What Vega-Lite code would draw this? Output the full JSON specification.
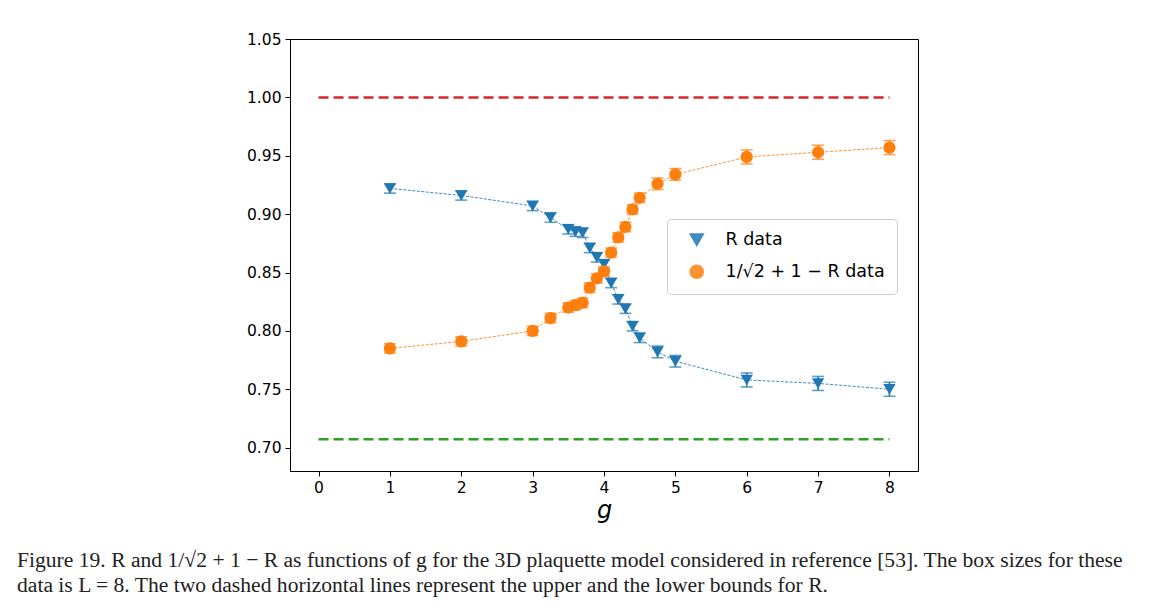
{
  "$schema": "https://vega.github.io/schema/vega-lite/v6.json",
  "width": 628,
  "height": 432,
  "autosize": {"type": "none"},
  "padding": {"left": 290, "top": 39, "right": 245, "bottom": 145},
  "background": "white",
  "config": {
    "view": {"stroke": "#000000", "strokeWidth": 1},
    "axis": {"grid": false, "domainColor": "#000000", "tickColor": "#000000", "labelColor": "#000000", "labelFont": "DejaVu Sans", "labelFontSize": 15.5, "tickSize": 5, "labelPadding": 4}
  },
  "title": {
    "text": ["Figure 19.  R and 1/√2 + 1 − R as functions of g for the 3D plaquette model considered in reference [53]. The box sizes for these", "data is L = 8. The two dashed horizontal lines represent the upper and the lower bounds for R."],
    "orient": "bottom", "anchor": "start", "frame": "group", "dx": -273, "offset": 27,
    "font": "Liberation Serif", "fontSize": 21.6, "fontWeight": "normal", "color": "#222222", "lineHeight": 25
  },
  "datasets": {
    "bounds": [
      {"name": "upper", "g0": 0, "g1": 8, "y": 1.0},
      {"name": "lower", "g0": 0, "g1": 8, "y": 0.7071}
    ],
    "pts": [
      {"g": 1, "series": "R  data", "value": 0.922, "err": 0.004},
      {"g": 2, "series": "R  data", "value": 0.916, "err": 0.004},
      {"g": 3, "series": "R  data", "value": 0.907, "err": 0.004},
      {"g": 3.25, "series": "R  data", "value": 0.897, "err": 0.004},
      {"g": 3.5, "series": "R  data", "value": 0.887, "err": 0.004},
      {"g": 3.6, "series": "R  data", "value": 0.885, "err": 0.004},
      {"g": 3.7, "series": "R  data", "value": 0.884, "err": 0.004},
      {"g": 3.8, "series": "R  data", "value": 0.871, "err": 0.004},
      {"g": 3.9, "series": "R  data", "value": 0.863, "err": 0.004},
      {"g": 4.0, "series": "R  data", "value": 0.857, "err": 0.004},
      {"g": 4.1, "series": "R  data", "value": 0.841, "err": 0.004},
      {"g": 4.2, "series": "R  data", "value": 0.827, "err": 0.004},
      {"g": 4.3, "series": "R  data", "value": 0.819, "err": 0.004},
      {"g": 4.4, "series": "R  data", "value": 0.804, "err": 0.004},
      {"g": 4.5, "series": "R  data", "value": 0.794, "err": 0.004},
      {"g": 4.75, "series": "R  data", "value": 0.782, "err": 0.005},
      {"g": 5, "series": "R  data", "value": 0.774, "err": 0.005},
      {"g": 6, "series": "R  data", "value": 0.758, "err": 0.006},
      {"g": 7, "series": "R  data", "value": 0.755, "err": 0.006},
      {"g": 8, "series": "R  data", "value": 0.750, "err": 0.006},
      {"g": 1, "series": "1/√2 + 1 − R data", "value": 0.785, "err": 0.004},
      {"g": 2, "series": "1/√2 + 1 − R data", "value": 0.791, "err": 0.004},
      {"g": 3, "series": "1/√2 + 1 − R data", "value": 0.800, "err": 0.004},
      {"g": 3.25, "series": "1/√2 + 1 − R data", "value": 0.811, "err": 0.004},
      {"g": 3.5, "series": "1/√2 + 1 − R data", "value": 0.820, "err": 0.004},
      {"g": 3.6, "series": "1/√2 + 1 − R data", "value": 0.822, "err": 0.004},
      {"g": 3.7, "series": "1/√2 + 1 − R data", "value": 0.824, "err": 0.004},
      {"g": 3.8, "series": "1/√2 + 1 − R data", "value": 0.837, "err": 0.004},
      {"g": 3.9, "series": "1/√2 + 1 − R data", "value": 0.845, "err": 0.004},
      {"g": 4.0, "series": "1/√2 + 1 − R data", "value": 0.851, "err": 0.004},
      {"g": 4.1, "series": "1/√2 + 1 − R data", "value": 0.867, "err": 0.004},
      {"g": 4.2, "series": "1/√2 + 1 − R data", "value": 0.880, "err": 0.004},
      {"g": 4.3, "series": "1/√2 + 1 − R data", "value": 0.889, "err": 0.004},
      {"g": 4.4, "series": "1/√2 + 1 − R data", "value": 0.904, "err": 0.004},
      {"g": 4.5, "series": "1/√2 + 1 − R data", "value": 0.914, "err": 0.004},
      {"g": 4.75, "series": "1/√2 + 1 − R data", "value": 0.926, "err": 0.005},
      {"g": 5, "series": "1/√2 + 1 − R data", "value": 0.934, "err": 0.005},
      {"g": 6, "series": "1/√2 + 1 − R data", "value": 0.949, "err": 0.006},
      {"g": 7, "series": "1/√2 + 1 − R data", "value": 0.953, "err": 0.006},
      {"g": 8, "series": "1/√2 + 1 − R data", "value": 0.957, "err": 0.006}
    ]
  },
  "layer": [
    {
      "data": {"name": "bounds"},
      "transform": [{"filter": "datum.name === 'upper'"}],
      "mark": {"type": "rule", "color": "#d62728", "strokeWidth": 2.5, "strokeDash": [10, 5]},
      "encoding": {
        "x": {"field": "g0", "type": "quantitative", "scale": {"domain": [-0.4, 8.4], "nice": false, "zero": false}, "axis": {"values": [0, 1, 2, 3, 4, 5, 6, 7, 8], "format": "d", "labelFontSize": 15.5, "title": "g", "titleFont": "DejaVu Sans", "titleFontStyle": "italic", "titleFontWeight": "normal", "titleFontSize": 24, "titleColor": "#000000", "titlePadding": 3}},
        "x2": {"field": "g1"},
        "y": {"field": "y", "type": "quantitative", "scale": {"domain": [0.68, 1.05], "nice": false, "zero": false}, "axis": {"values": [0.70, 0.75, 0.80, 0.85, 0.90, 0.95, 1.00, 1.05], "format": ".2f", "labelFontSize": 15.5, "title": null}}
      }
    },
    {
      "data": {"name": "bounds"},
      "transform": [{"filter": "datum.name === 'lower'"}],
      "mark": {"type": "rule", "color": "#2ca02c", "strokeWidth": 2.5, "strokeDash": [10, 5]},
      "encoding": {
        "x": {"field": "g0", "type": "quantitative"},
        "x2": {"field": "g1"},
        "y": {"field": "y", "type": "quantitative", "title": null}
      }
    },
    {
      "data": {"name": "pts"},
      "mark": {"type": "line", "strokeWidth": 1, "strokeDash": [3, 1.5], "opacity": 0.85},
      "encoding": {
        "x": {"field": "g", "type": "quantitative"},
        "y": {"field": "value", "type": "quantitative", "title": null},
        "color": {"field": "series", "type": "nominal", "scale": {"domain": ["R  data", "1/√2 + 1 − R data"], "range": ["#1f77b4", "#ff7f0e"]}},
        "order": {"field": "g", "type": "quantitative"}
      }
    },
    {
      "data": {"name": "pts"},
      "mark": {"type": "errorbar", "ticks": {"size": 12, "thickness": 1.6}, "thickness": 1.6},
      "encoding": {
        "x": {"field": "g", "type": "quantitative"},
        "y": {"field": "value", "type": "quantitative", "title": null},
        "yError": {"field": "err"},
        "color": {"field": "series", "type": "nominal"}
      }
    },
    {
      "data": {"name": "pts"},
      "mark": {"type": "point", "filled": true, "opacity": 1, "size": 150},
      "encoding": {
        "x": {"field": "g", "type": "quantitative"},
        "y": {"field": "value", "type": "quantitative", "title": null},
        "color": {"field": "series", "type": "nominal", "legend": {"orient": "none", "legendX": 377, "legendY": 180, "title": null, "fillColor": "white", "strokeColor": "#cccccc", "cornerRadius": 4, "padding": 12, "labelFont": "DejaVu Sans", "labelFontSize": 17.5, "labelLimit": 400, "labelColor": "#000000", "symbolSize": 170, "symbolOffset": 9, "labelOffset": 20, "rowPadding": 13}},
        "shape": {"field": "series", "type": "nominal", "scale": {"domain": ["R  data", "1/√2 + 1 − R data"], "range": ["triangle-down", "circle"]}}
      }
    }
  ]
}
